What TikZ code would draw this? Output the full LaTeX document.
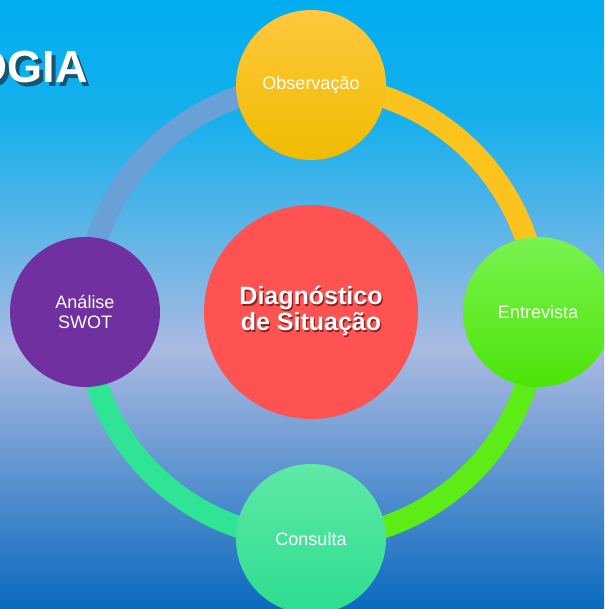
\documentclass[tikz,border=0pt]{standalone}
\usepackage{fontspec}
\setmainfont{Liberation Sans}
\usetikzlibrary{backgrounds}

\definecolor{skytop}{RGB}{0,174,239}
\definecolor{skyhigh}{RGB}{22,176,236}
\definecolor{skymid}{RGB}{170,186,226}
\definecolor{skylow}{RGB}{10,106,190}
\definecolor{arcblue}{RGB}{106,160,216}
\definecolor{arcyellow}{RGB}{252,194,30}
\definecolor{arcgreen}{RGB}{94,236,22}
\definecolor{arcteal}{RGB}{48,228,150}
\definecolor{obstop}{RGB}{255,200,62}
\definecolor{obsbot}{RGB}{240,187,0}
\definecolor{enttop}{RGB}{122,242,80}
\definecolor{entbot}{RGB}{76,228,8}
\definecolor{constop}{RGB}{96,232,166}
\definecolor{consbot}{RGB}{44,221,144}
\definecolor{swotpurple}{RGB}{112,48,160}
\definecolor{diagred}{RGB}{255,82,82}
\definecolor{diagshadow}{RGB}{140,36,36}
\definecolor{titleshadow}{RGB}{24,84,114}

% text with a dark copy behind it
\newcommand{\shadowtext}[3]{\rlap{\hspace*{#2}\raisebox{-#2}{\color{#1}#3}}#3}

\begin{document}
\begin{tikzpicture}[x=1pt, y=1pt,
  ball/.style={circle, minimum size=150pt, inner sep=0pt, text=white, align=center,
    font=\fontsize{18}{20}\selectfont},
  ring/.style={line width=22pt}]
  \useasboundingbox (0,0) rectangle (604,609);
  \clip (0,0) rectangle (604,609);

  \node[ball, top color=obstop, bottom color=obsbot] (obs) at (311,524) {Observação};
  \node[ball, top color=enttop, bottom color=entbot] (ent) at (538,297) {Entrevista};
  \node[ball, top color=constop, bottom color=consbot] (cons) at (311,70) {Consulta};
  \node[ball, fill=swotpurple] (swot) at (85,297) {Análise\\SWOT};
  \node[ball, fill=diagred, minimum size=214pt, font=\fontsize{25}{26}\selectfont\bfseries]
    (diag) at (311,297) {\shadowtext{diagshadow}{1.3pt}{Diagnóstico}\\\shadowtext{diagshadow}{1.3pt}{de Situação}};

  \node[anchor=base east, inner sep=0pt, text=white, font=\fontsize{45}{50}\selectfont\bfseries]
    (title) at (88,526) {\shadowtext{titleshadow}{3.5pt}{OGIA}};

  \begin{scope}[on background layer]
    % sky
    \shade[top color=skytop, bottom color=skyhigh] (0,489) rectangle (604,609);
    \shade[top color=skyhigh, bottom color=skymid] (0,259) rectangle (604,489.5);
    \shade[top color=skymid, bottom color=skylow] (0,0) rectangle (604,259.5);
    % cycle ring
    \draw[ring, arcblue] (swot.center) to[bend left=45] (obs.center);
    \draw[ring, arcyellow] (obs.center) to[bend left=45] (ent.center);
    \draw[ring, arcgreen] (ent.center) to[bend left=45] (cons.center);
    \draw[ring, arcteal] (cons.center) to[bend left=45] (swot.center);
  \end{scope}
\end{tikzpicture}
\end{document}
